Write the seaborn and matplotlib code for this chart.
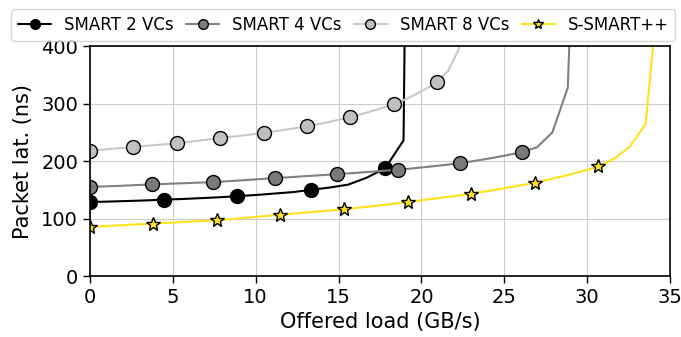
import matplotlib
matplotlib.use("Agg")
import matplotlib.pyplot as plt
import seaborn as sns

# Data (offered load in GB/s, packet latency in ns)
x_2vc = [0, 1.11, 2.23, 3.34, 4.45, 5.57, 6.68, 7.79, 8.9, 10.02, 11.13, 12.24,
         13.36, 14.47, 15.58, 16.69, 17.81, 18.92, 20.03]
y_2vc = [128.8, 129.5, 130.5, 131.5, 133, 134, 135.5, 137, 139, 141, 143.5, 146,
         150, 154, 159, 171, 187.5, 236, 3200]

x_4vc = [0, 0.93, 1.86, 2.79, 3.72, 4.65, 5.58, 6.51, 7.44, 8.37, 9.3, 10.23,
         11.16, 12.09, 13.02, 13.95, 14.88, 15.81, 16.74, 17.67, 18.6, 19.53,
         20.46, 21.39, 22.32, 23.25, 24.18, 25.11, 26.04, 26.97, 27.9, 28.83, 29.76]
y_4vc = [154.8, 156, 157, 158.2, 159.4, 160.4, 161.4, 162.4, 163.4, 165, 166.8,
         168.6, 170.4, 172, 173.8, 175.5, 177.3, 179, 181, 183, 184.9, 187.5,
         190.2, 193.2, 196.4, 200.5, 205, 210, 215.4, 224, 250, 328, 1100]

x_8vc = [0, 0.655, 1.31, 1.965, 2.62, 3.275, 3.93, 4.585, 5.24, 5.895, 6.55,
         7.205, 7.86, 8.515, 9.17, 9.825, 10.48, 11.135, 11.79, 12.445, 13.1,
         13.755, 14.41, 15.065, 15.72, 16.375, 17.03, 17.685, 18.34, 18.995,
         19.65, 20.305, 20.96, 21.615, 22.27, 22.925]
y_8vc = [218, 219.6, 221.3, 223, 224.7, 226.2, 227.8, 229.4, 231, 233.2, 235.4,
         237.7, 240, 242.2, 244.4, 246.7, 249, 251.8, 254.6, 257.5, 260.5, 264.2,
         268, 272.2, 276.6, 281.8, 287.2, 293, 299, 307, 316, 326.5, 338, 357,
         396, 560]

x_ss = [0, 0.958, 1.916, 2.874, 3.832, 4.79, 5.748, 6.706, 7.664, 8.622, 9.58,
        10.538, 11.496, 12.454, 13.412, 14.37, 15.328, 16.286, 17.244, 18.202,
        19.16, 20.118, 21.076, 22.034, 22.992, 23.95, 24.908, 25.866, 26.824,
        27.782, 28.74, 29.698, 30.656, 31.614, 32.572, 33.53, 34.488]
y_ss = [85.5, 87, 88.4, 89.9, 91.3, 92.7, 94.1, 95.5, 97, 99.3, 101.7, 104.2,
        106.9, 109.1, 111.4, 113.7, 116.1, 119, 122, 125.3, 128.8, 132.2, 135.7,
        139.4, 143.3, 147.6, 152.2, 157.1, 162.4, 168.5, 175, 182.4, 190.6, 204,
        225, 265, 560]

labels = ['SMART 2 VCs', 'SMART 4 VCs', 'SMART 8 VCs', 'S-SMART++']

sns.set_style("whitegrid", {"axes.edgecolor": "black", "grid.color": "#cccccc",
                            "xtick.bottom": True, "ytick.left": True})
plt.rcParams['font.family'] = ['DejaVu Sans']
plt.rcParams['text.color'] = 'black'
plt.rcParams['axes.labelcolor'] = 'black'
plt.rcParams['xtick.color'] = 'black'
plt.rcParams['ytick.color'] = 'black'

fig, ax = plt.subplots(figsize=(6.81, 3.37), dpi=100)
fig.subplots_adjust(left=0.132, right=0.984, top=0.863, bottom=0.181)

common = dict(ax=ax, linewidth=1.5, markeredgecolor='black', markeredgewidth=1)
sns.lineplot(x=x_2vc, y=y_2vc, color='black', marker='o', markersize=10,
             markerfacecolor='black', markevery=4, label=labels[0], **common)
sns.lineplot(x=x_4vc, y=y_4vc, color='#808080', marker='o', markersize=10,
             markerfacecolor='#7a7a7a', markevery=4, label=labels[1], **common)
sns.lineplot(x=x_8vc, y=y_8vc, color='#c8c8c8', marker='o', markersize=10,
             markerfacecolor='#c0c0c0', markevery=4, label=labels[2], **common)
sns.lineplot(x=x_ss, y=y_ss, color='#ffe21a', marker='*', markersize=10.5,
             markerfacecolor='#ffe21a', markevery=4, label=labels[3], **common)

ax.set_xlim(0, 35)
ax.set_ylim(0, 400)
ax.set_xticks([0, 5, 10, 15, 20, 25, 30, 35])
ax.set_yticks([0, 100, 200, 300, 400])
ax.tick_params(axis='both', labelsize=14, length=5, width=1, direction='out')
ax.set_xlabel('Offered load (GB/s)', fontsize=15)
ax.set_ylabel('Packet lat. (ns)', fontsize=15, labelpad=6)
for s in ax.spines.values():
    s.set_linewidth(1.2)
    s.set_color('black')

ax.get_legend().remove()
handles, lbls = ax.get_legend_handles_labels()
fig.legend(handles, lbls, loc='upper center', bbox_to_anchor=(0.504, 0.982),
           ncol=4, fontsize=12, markerscale=0.7, handlelength=2.0,
           columnspacing=0.75, handletextpad=0.75, borderaxespad=0.2,
           frameon=True, fancybox=True)

fig.savefig('out.png', dpi=100)
